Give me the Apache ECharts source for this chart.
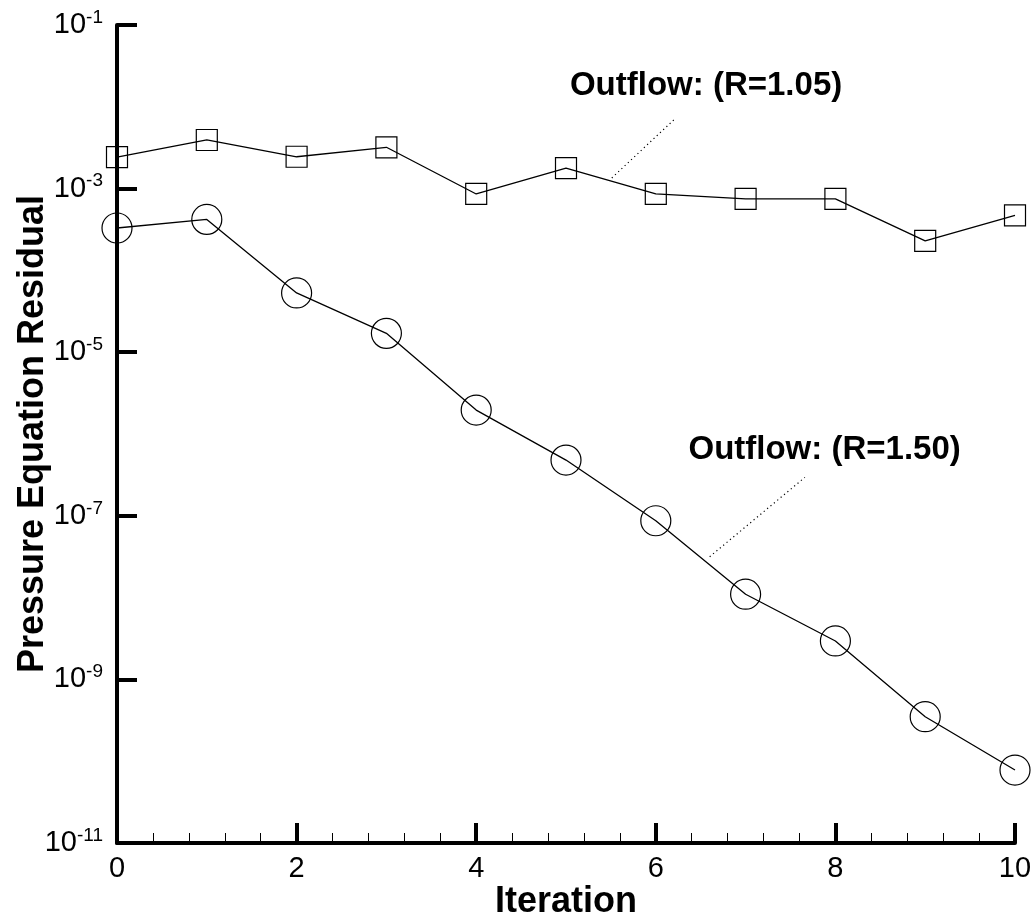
<!DOCTYPE html>
<html>
<head>
<meta charset="utf-8">
<title>Pressure Equation Residual</title>
<script src="https://cdn.jsdelivr.net/npm/echarts@6/dist/echarts.min.js"></script>
<style>
  html, body { margin: 0; padding: 0; background: #fff; }
  #chart { width: 1034px; height: 918px; }
</style>
</head>
<body>
<div id="chart"></div>
<script>
// values
const iterations = [0, 1, 2, 3, 4, 5, 6, 7, 8, 9, 10];
const residualR105 = [2.43e-3, 3.93e-3, 2.45e-3, 3.2e-3, 8.6e-4, 1.78e-3, 8.6e-4, 7.5e-4, 7.5e-4, 2.3e-4, 4.7e-4];
const residualR150 = [3.3e-4, 4.2e-4, 5.3e-5, 1.7e-5, 1.96e-6, 4.8e-7, 8.7e-8, 1.1e-8, 2.95e-9, 3.5e-10, 7.8e-11];
const seriesNames = ['Outflow: (R=1.05)', 'Outflow: (R=1.50)'];

const FONT = '"Liberation Sans", Arial, Helvetica, sans-serif';

const chart = echarts.init(document.getElementById('chart'));

function pairs(ys) {
  return iterations.map((x, i) => [x, ys[i]]);
}

// leader line + text for each curve
function note(name, textAt, from, to) {
  return {
    markLine: {
      silent: true,
      symbol: 'none',
      label: { show: false },
      lineStyle: { color: '#000', type: [1.2, 3.2], width: 1.2 },
      data: [[{ coord: from }, { coord: to }]]
    },
    markPoint: {
      silent: true,
      symbol: 'circle',
      symbolSize: 0,
      label: {
        show: true,
        formatter: name,
        color: '#000',
        fontFamily: FONT,
        fontWeight: 'bold',
        fontSize: 33,
        position: 'inside'
      },
      data: [{ coord: textAt }]
    }
  };
}

const marker = {
  color: 'rgba(0,0,0,0)',
  borderColor: '#000',
  borderWidth: 1.2
};

const option = {
  backgroundColor: '#fff',
  animation: false,
  grid: { left: 117, right: 19, top: 25, bottom: 75, outerBoundsMode: 'none' },
  xAxis: {
    type: 'value',
    min: 0,
    max: 10,
    interval: 2,
    name: 'Iteration',
    nameLocation: 'middle',
    nameGap: 41,
    nameMoveOverlap: false,
    nameTextStyle: { color: '#000', fontFamily: FONT, fontWeight: 'bold', fontSize: 36 },
    axisLine: { lineStyle: { color: '#000', width: 4 } },
    axisTick: { inside: true, length: 20, lineStyle: { width: 4, color: '#000' } },
    minorTick: { show: true, splitNumber: 5, length: 10, lineStyle: { width: 1, color: '#000' } },
    axisLabel: { color: '#000', fontFamily: FONT, fontSize: 29, margin: 11 },
    splitLine: { show: false }
  },
  yAxis: {
    type: 'log',
    logBase: 10,
    min: 1e-11,
    max: 1e-1,
    interval: 2,
    name: 'Pressure Equation Residual',
    nameLocation: 'middle',
    nameGap: 66,
    nameMoveOverlap: false,
    nameTextStyle: { color: '#000', fontFamily: FONT, fontWeight: 'bold', fontSize: 36 },
    axisLine: { show: true, lineStyle: { color: '#000', width: 4 } },
    axisTick: { show: true, inside: true, length: 20, lineStyle: { width: 4, color: '#000' } },
    minorTick: { show: false },
    splitLine: { show: false },
    axisLabel: {
      margin: 14,
      formatter: function (v) {
        return '{b|10}{s|' + Math.round(Math.log10(v)) + '}';
      },
      rich: {
        b: { color: '#000', fontFamily: FONT, fontSize: 29 },
        s: { color: '#000', fontFamily: FONT, fontSize: 19, padding: [0, 0, 15, 0] }
      }
    }
  },
  series: [
    Object.assign({
      name: seriesNames[0],
      type: 'line',
      data: pairs(residualR105),
      symbol: 'rect',
      symbolSize: 21,
      itemStyle: marker,
      lineStyle: { color: '#000', width: 1.3 },
      z: 3
    }, note(seriesNames[0], [6.56, 0.0179], [5.51, 1.35e-3], [6.2, 6.9e-3])),
    Object.assign({
      name: seriesNames[1],
      type: 'line',
      data: pairs(residualR150),
      symbol: 'circle',
      symbolSize: 30,
      itemStyle: marker,
      lineStyle: { color: '#000', width: 1.3 },
      z: 3
    }, note(seriesNames[1], [7.88, 6.4e-7], [6.6, 3.16e-8], [7.66, 2.95e-7]))
  ]
};

chart.setOption(option);
</script>
</body>
</html>
